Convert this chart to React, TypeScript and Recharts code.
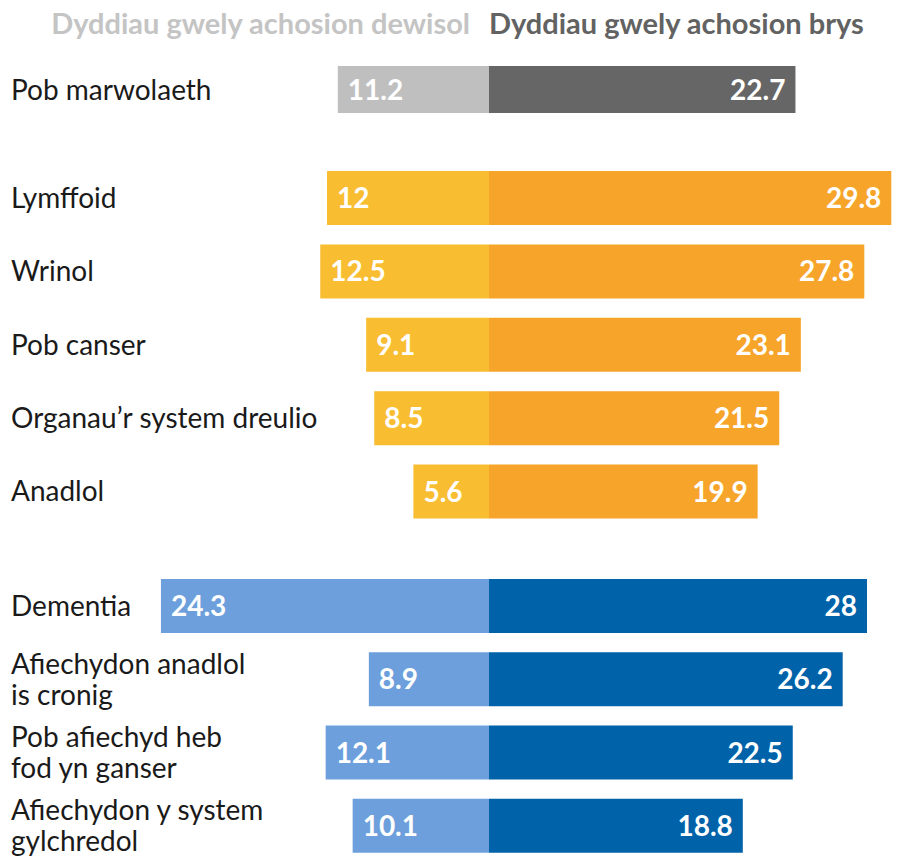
import { BarChart, Bar, XAxis, YAxis, LabelList } from "recharts";

const allDeathsNames = ["Pob marwolaeth"];
const allDeathsElective = [11.2];
const allDeathsEmergency = [22.7];

const cancerNames = ["Lymffoid", "Wrinol", "Pob canser", "Organau’r system dreulio", "Anadlol"];
const cancerElective = [12, 12.5, 9.1, 8.5, 5.6];
const cancerEmergency = [29.8, 27.8, 23.1, 21.5, 19.9];

const otherNames = [
  "Dementia",
  "Afiechydon anadlol\nis cronig",
  "Pob afiechyd heb\nfod yn ganser",
  "Afiechydon y system\ngylchredol",
];
const otherElective = [24.3, 8.9, 12.1, 10.1];
const otherEmergency = [28, 26.2, 22.5, 18.8];

const FONT = "Lato, 'Noto Sans', sans-serif";
const ROW = 73.3;
const DOMAIN: [number, number] = [-26, 30];

function CategoryTick({ y, payload }: any) {
  const lines = String(payload.value).split("\n");
  const offsets = lines.length === 1 ? [10] : [-5, 26];
  return (
    <text x={11} y={y} fill="#1a1a1a" fontFamily={FONT} fontSize={28} textAnchor="start">
      {lines.map((line, i) => (
        <tspan key={i} x={11} y={y + offsets[i]}>
          {line}
        </tspan>
      ))}
    </text>
  );
}

function ValueLabel({ x, y, width, height, value, side }: any) {
  const left = Math.min(x, x + width);
  const right = Math.max(x, x + width);
  const tx = side === "left" ? left + 10 : right - 10;
  return (
    <text
      x={tx}
      y={y + height / 2 + 10}
      fill="#ffffff"
      fontFamily={FONT}
      fontWeight={700}
      fontSize={28}
      textAnchor={side === "left" ? "start" : "end"}
    >
      {value}
    </text>
  );
}

function Panel({
  names,
  elective,
  emergency,
  colors,
  top,
  barSize,
}: {
  names: string[];
  elective: number[];
  emergency: number[];
  colors: [string, string];
  top: number;
  barSize: number;
}) {
  const data = names.map((name, i) => ({
    name,
    elective: elective[i],
    left: -elective[i],
    emergency: emergency[i],
  }));
  return (
    <div style={{ position: "absolute", left: 0, top }}>
      <BarChart
        width={900}
        height={Math.round(names.length * ROW)}
        data={data}
        layout="vertical"
        stackOffset="sign"
        margin={{ top: 0, right: 6, bottom: 0, left: 0 }}
      >
        <XAxis type="number" domain={DOMAIN} hide allowDataOverflow />
        <YAxis
          type="category"
          dataKey="name"
          width={138}
          axisLine={false}
          tickLine={false}
          tick={<CategoryTick />}
          interval={0}
        />
        <Bar dataKey="left" stackId="a" fill={colors[0]} barSize={barSize} isAnimationActive={false}>
          <LabelList dataKey="elective" content={<ValueLabel side="left" />} />
        </Bar>
        <Bar dataKey="emergency" stackId="a" fill={colors[1]} barSize={barSize} isAnimationActive={false}>
          <LabelList dataKey="emergency" content={<ValueLabel side="right" />} />
        </Bar>
      </BarChart>
    </div>
  );
}

export default function App() {
  return (
    <div
      style={{
        position: "absolute",
        left: 0,
        top: 0,
        width: 900,
        height: 857,
        overflow: "hidden",
        background: "#ffffff",
        fontFamily: FONT,
      }}
    >
      <div
        style={{
          position: "absolute",
          top: 5,
          right: 430,
          fontSize: 29,
          fontWeight: 700,
          color: "#c4c4c4",
          whiteSpace: "nowrap",
        }}
      >
        Dyddiau gwely achosion dewisol
      </div>
      <div
        style={{
          position: "absolute",
          top: 5,
          left: 489,
          fontSize: 29,
          fontWeight: 700,
          color: "#626262",
          whiteSpace: "nowrap",
        }}
      >
        Dyddiau gwely achosion brys
      </div>
      <Panel
        names={allDeathsNames}
        elective={allDeathsElective}
        emergency={allDeathsEmergency}
        colors={["#bfbfbf", "#666666"]}
        top={53}
        barSize={47}
      />
      <Panel
        names={cancerNames}
        elective={cancerElective}
        emergency={cancerEmergency}
        colors={["#f8bd31", "#f6a52a"]}
        top={161}
        barSize={54}
      />
      <Panel
        names={otherNames}
        elective={otherElective}
        emergency={otherEmergency}
        colors={["#6d9fdc", "#0062a9"]}
        top={569}
        barSize={54}
      />
    </div>
  );
}
